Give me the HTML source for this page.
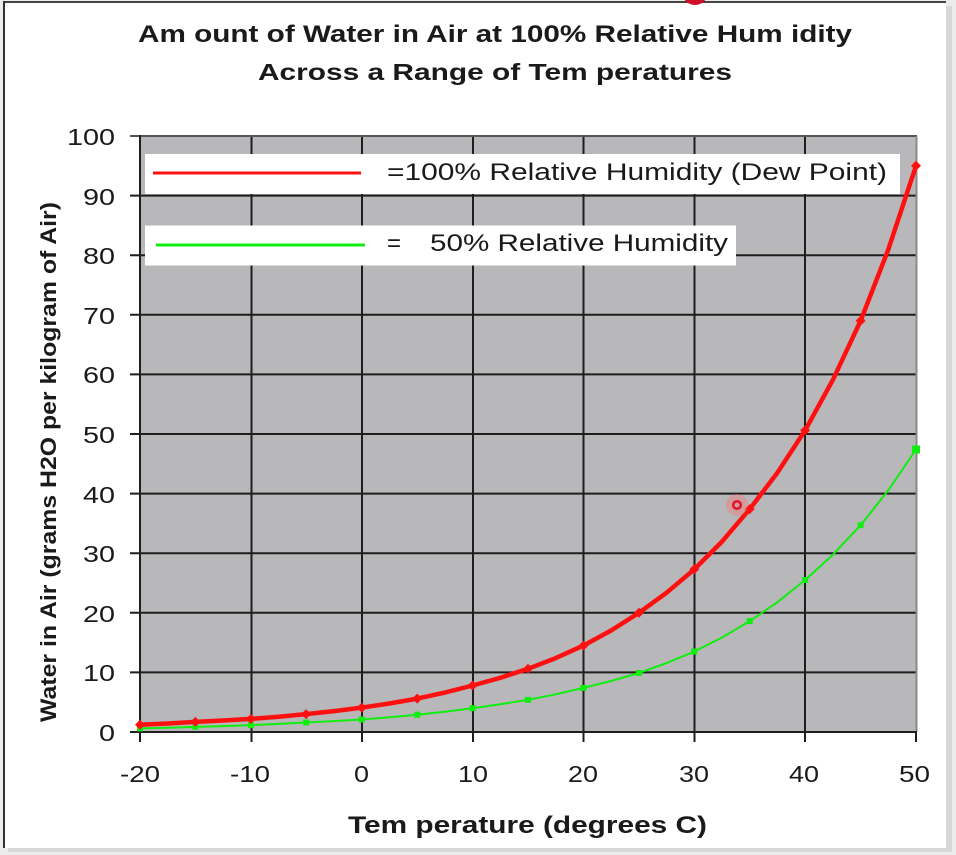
<!DOCTYPE html>
<html>
<head>
<meta charset="utf-8">
<style>
  html,body{margin:0;padding:0;background:#ececec;}
  svg{display:block;}
  text{font-family:"Liberation Sans",Arial,sans-serif;fill:#1a1a1a;}
</style>
</head>
<body>
<svg width="956" height="855" viewBox="0 0 956 855" xmlns="http://www.w3.org/2000/svg">
  <!-- background & frame -->
  <rect x="0" y="0" width="956" height="855" fill="#ececec"/>
  <rect x="8" y="6" width="944" height="846" fill="#d8d8d8"/>
  <rect x="3" y="1" width="943" height="847" fill="#ffffff"/>
  <line x1="3" y1="2" x2="946" y2="2" stroke="#444" stroke-width="2"/>
  <line x1="4" y1="1" x2="4" y2="848" stroke="#333" stroke-width="2"/>

  <!-- title -->
  <text x="138" y="42" font-size="24" font-weight="bold" textLength="714" lengthAdjust="spacingAndGlyphs">Am ount of Water in Air at 100% Relative Hum idity</text>
  <text x="258" y="80" font-size="23" font-weight="bold" textLength="474" lengthAdjust="spacingAndGlyphs">Across a Range of Tem peratures</text>

  <!-- plot area -->
  <rect x="140" y="136" width="776" height="596" fill="#b8b7b9"/>
  <!-- horizontal grid -->
  <g stroke="#1e1e1e" stroke-width="2">
    <line x1="130" y1="195.6" x2="916" y2="195.6"/>
    <line x1="130" y1="255.2" x2="916" y2="255.2"/>
    <line x1="130" y1="314.8" x2="916" y2="314.8"/>
    <line x1="130" y1="374.4" x2="916" y2="374.4"/>
    <line x1="130" y1="434" x2="916" y2="434"/>
    <line x1="130" y1="493.6" x2="916" y2="493.6"/>
    <line x1="130" y1="553.2" x2="916" y2="553.2"/>
    <line x1="130" y1="612.8" x2="916" y2="612.8"/>
    <line x1="130" y1="672.4" x2="916" y2="672.4"/>
    <!-- vertical grid -->
    <line x1="251.5" y1="136" x2="251.5" y2="742"/>
    <line x1="362" y1="136" x2="362" y2="742"/>
    <line x1="473" y1="136" x2="473" y2="742"/>
    <line x1="583.5" y1="136" x2="583.5" y2="742"/>
    <line x1="694.5" y1="136" x2="694.5" y2="742"/>
    <line x1="805" y1="136" x2="805" y2="742"/>
    <line x1="916" y1="732" x2="916" y2="742"/>
  </g>
  <!-- plot border top/right -->
  <line x1="130" y1="136" x2="917" y2="136" stroke="#555" stroke-width="2"/>
  <line x1="916.5" y1="136" x2="916.5" y2="732" stroke="#8a8a8a" stroke-width="2"/>
  <!-- axes -->
  <line x1="140" y1="135" x2="140" y2="742" stroke="#1e1e1e" stroke-width="2"/>
  <line x1="130" y1="732" x2="917" y2="732" stroke="#1e1e1e" stroke-width="2"/>

  <!-- legend boxes -->
  <rect x="145" y="154" width="755" height="40" fill="#ffffff"/>
  <line x1="153" y1="173" x2="361" y2="173" stroke="#ff1010" stroke-width="3"/>
  <text x="387" y="180" font-size="24" textLength="500" lengthAdjust="spacingAndGlyphs">=100% Relative Humidity (Dew Point)</text>
  <rect x="145" y="225.5" width="591" height="40" fill="#ffffff"/>
  <line x1="156" y1="245" x2="365" y2="245" stroke="#10ee10" stroke-width="3"/>
  <text x="387" y="251" font-size="24">=</text>
  <text x="430" y="251" font-size="24" textLength="298" lengthAdjust="spacingAndGlyphs">50% Relative Humidity</text>

  <!-- green series -->
  <polyline fill="none" stroke="#10ee10" stroke-width="2" stroke-linejoin="round"
    points="140,728.4 167.7,727.8 195.4,726.9 223.1,726.1 250.9,725.1 278.6,723.9 306.1,722.5 334,721.1 361.7,719.5 389.4,717.3 417.2,714.7 444.9,711.7 472.6,708.2 500.3,704.3 528,699.8 555.7,694.3 583.4,687.9 611.1,681 638.9,673 666.6,663.1 694.3,651.5 722,637.5 749.7,621.1 777.4,602.2 805.1,580 832.9,554.7 860.6,525.2 888.3,490.3 916,449.5"/>
  <g fill="#10ee10">
    <rect x="137" y="725.4" width="6" height="6"/>
    <rect x="192.4" y="723.9" width="6" height="6"/>
    <rect x="247.9" y="722.1" width="6" height="6"/>
    <rect x="303.1" y="719.5" width="6" height="6"/>
    <rect x="358.7" y="716.5" width="6" height="6"/>
    <rect x="414.2" y="711.7" width="6" height="6"/>
    <rect x="469.6" y="705.2" width="6" height="6"/>
    <rect x="525" y="696.8" width="6" height="6"/>
    <rect x="580.4" y="684.9" width="6" height="6"/>
    <rect x="635.9" y="670" width="6" height="6"/>
    <rect x="691.3" y="648.5" width="6" height="6"/>
    <rect x="746.7" y="618.1" width="6" height="6"/>
    <rect x="802.1" y="577" width="6" height="6"/>
    <rect x="857.6" y="522.2" width="6" height="6"/>
    <rect x="912" y="445.5" width="8" height="8"/>
  </g>

  <!-- red series -->
  <polyline fill="none" stroke="#ff1010" stroke-width="4.5" stroke-linejoin="round"
    points="140,724.8 167.7,723.5 195.4,721.9 223.1,720.5 250.9,718.9 278.6,716.7 306.1,714.1 334,711.1 361.7,707.6 389.4,703.5 417.2,698.6 444.9,692.6 472.6,685.5 500.3,677.8 528,668.8 555.7,658.1 583.4,645.6 611.1,630.5 638.9,612.8 666.6,592.7 694.3,569.3 722,541.6 749.7,509.1 777.4,472.7 805.1,430.4 832.9,379.8 860.6,320.8 888.3,249.5 916,165.8"/>
  <g fill="#ff1010">
    <polygon points="140,719.8 145,724.8 140,729.8 135,724.8"/>
    <polygon points="195.4,716.9 200.4,721.9 195.4,726.9 190.4,721.9"/>
    <polygon points="250.9,713.9 255.9,718.9 250.9,723.9 245.9,718.9"/>
    <polygon points="306.1,709.1 311.1,714.1 306.1,719.1 301.1,714.1"/>
    <polygon points="361.7,702.6 366.7,707.6 361.7,712.6 356.7,707.6"/>
    <polygon points="417.2,693.6 422.2,698.6 417.2,703.6 412.2,698.6"/>
    <polygon points="472.6,680.5 477.6,685.5 472.6,690.5 467.6,685.5"/>
    <polygon points="528,663.8 533,668.8 528,673.8 523,668.8"/>
    <polygon points="583.4,640.6 588.4,645.6 583.4,650.6 578.4,645.6"/>
    <polygon points="638.9,607.8 643.9,612.8 638.9,617.8 633.9,612.8"/>
    <polygon points="694.3,564.3 699.3,569.3 694.3,574.3 689.3,569.3"/>
    <polygon points="749.7,504.1 754.7,509.1 749.7,514.1 744.7,509.1"/>
    <polygon points="805.1,425.4 810.1,430.4 805.1,435.4 800.1,430.4"/>
    <polygon points="860.6,315.8 865.6,320.8 860.6,325.8 855.6,320.8"/>
    <polygon points="916,160.8 921,165.8 916,170.8 911,165.8"/>
  </g>

  <!-- cursor highlight -->
  <circle cx="737" cy="505" r="11" fill="#ff6a6a" opacity="0.35"/>
  <circle cx="737" cy="505" r="3.8" fill="none" stroke="#e8102a" stroke-width="2.5"/>
  <circle cx="695" cy="-8" r="13" fill="#d0102a"/>

  <!-- y tick labels -->
  <g font-size="23">
    <text x="67" y="145" textLength="48" lengthAdjust="spacingAndGlyphs">100</text>
    <text x="83" y="205" textLength="32" lengthAdjust="spacingAndGlyphs">90</text>
    <text x="83" y="264" textLength="32" lengthAdjust="spacingAndGlyphs">80</text>
    <text x="83" y="324" textLength="32" lengthAdjust="spacingAndGlyphs">70</text>
    <text x="83" y="383" textLength="32" lengthAdjust="spacingAndGlyphs">60</text>
    <text x="83" y="443" textLength="32" lengthAdjust="spacingAndGlyphs">50</text>
    <text x="83" y="503" textLength="32" lengthAdjust="spacingAndGlyphs">40</text>
    <text x="83" y="562" textLength="32" lengthAdjust="spacingAndGlyphs">30</text>
    <text x="83" y="622" textLength="32" lengthAdjust="spacingAndGlyphs">20</text>
    <text x="83" y="681" textLength="32" lengthAdjust="spacingAndGlyphs">10</text>
    <text x="99" y="741" textLength="16" lengthAdjust="spacingAndGlyphs">0</text>
  </g>

  <!-- x tick labels -->
  <g font-size="23">
    <text x="120" y="782" textLength="40" lengthAdjust="spacingAndGlyphs">-20</text>
    <text x="230" y="782" textLength="40" lengthAdjust="spacingAndGlyphs">-10</text>
    <text x="354" y="782" textLength="15" lengthAdjust="spacingAndGlyphs">0</text>
    <text x="458" y="782" textLength="30" lengthAdjust="spacingAndGlyphs">10</text>
    <text x="568" y="782" textLength="30" lengthAdjust="spacingAndGlyphs">20</text>
    <text x="679" y="782" textLength="30" lengthAdjust="spacingAndGlyphs">30</text>
    <text x="789" y="782" textLength="30" lengthAdjust="spacingAndGlyphs">40</text>
    <text x="899" y="782" textLength="31" lengthAdjust="spacingAndGlyphs">50</text>
  </g>

  <!-- axis titles -->
  <text x="348" y="833" font-size="24" font-weight="bold" textLength="359" lengthAdjust="spacingAndGlyphs">Tem perature (degrees C)</text>
  <text transform="translate(56,462) rotate(-90)" x="0" y="0" text-anchor="middle" font-size="22" font-weight="bold" textLength="520" lengthAdjust="spacingAndGlyphs">Water in Air (grams H2O per kilogram of Air)</text>
</svg>
</body>
</html>
